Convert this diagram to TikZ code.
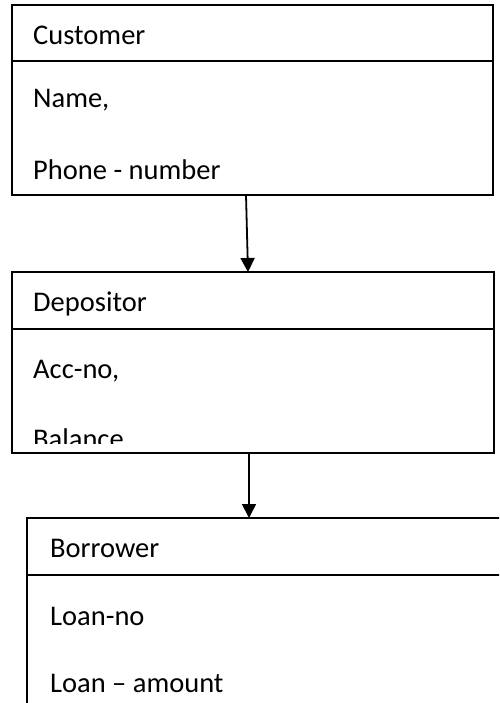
\documentclass[tikz,border=0pt]{standalone}
\usepackage{fontspec}
\setmainfont{Carlito}
\usetikzlibrary{arrows.meta,calc}
\begin{document}
\begin{tikzpicture}[x=1pt,y=-1pt,
  entity/.style={draw, line width=1.8pt, rectangle, inner sep=0pt, outer sep=0pt, anchor=north west},
  divider/.style={line width=1.3pt},
  field/.style={anchor=base west, inner sep=0pt, font=\fontsize{28.5}{34}\selectfont},
  link/.style={line width=1.8pt, -{Triangle[length=14pt,width=14pt]}}]
  \useasboundingbox (0,0) rectangle (499,703);
  \clip (0,0) rectangle (499,703);

  % entity boxes
  \node[entity, minimum width=481pt, minimum height=190pt] (cust) at (12,5) {};
  \node[entity, minimum width=482pt, minimum height=181pt] (dep) at (12,272) {};
  \node[entity, minimum width=500pt, minimum height=220pt] (bor) at (27,518) {};

  % header separators
  \draw[divider] ($(cust.north west)+(0,56)$) -- ($(cust.north east)+(0,56)$);
  \draw[divider] ($(dep.north west)+(0,57)$) -- ($(dep.north east)+(0,57)$);
  \draw[divider] ($(bor.north west)+(0,57)$) -- ($(bor.north east)+(0,57)$);

  % Customer
  \node[field] (custname) at (33,45) {Customer};
  \node[field] (custa) at (33,108) {Name,};
  \node[field] (custb) at (33,180) {Phone - number};

  % Depositor
  \node[field] (depname) at (33,311) {Depositor};
  \node[field] (depa) at (33,378) {Acc-no,};
  \begin{scope}
    \clip (12,272) rectangle (494,443);
    \node[field] (depb) at (33,448) {Balance};
  \end{scope}

  % Borrower
  \node[field] (borname) at (50,557) {Borrower};
  \node[field] (bora) at (50,625) {Loan-no};
  \node[field] (borb) at (50,692) {Loan – amount};

  % specialisation links
  \draw[link] ($(cust.south west)+(234,0)$) -- ($(dep.north west)+(236,0)$);
  \draw[link] ($(dep.south west)+(237,0)$) -- ($(bor.north west)+(222,0)$);
\end{tikzpicture}
\end{document}
